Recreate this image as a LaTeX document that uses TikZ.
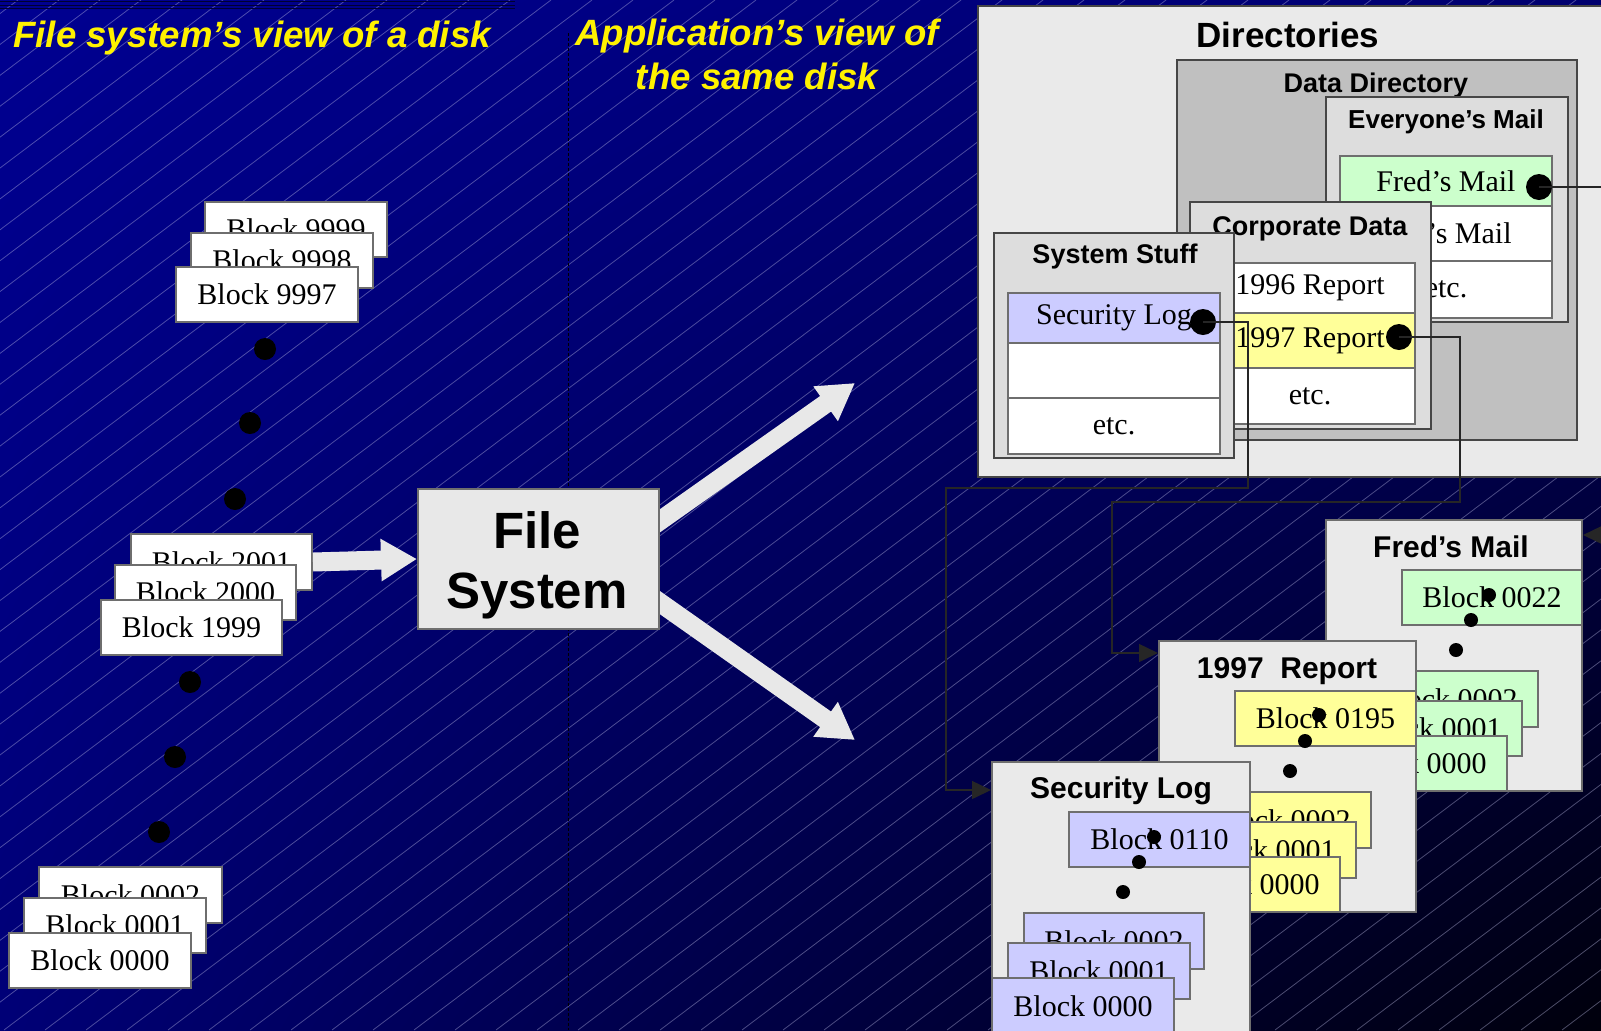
\documentclass[tikz,border=0pt]{standalone}
\usepackage{fontspec}
\setmainfont{Liberation Serif}
\newfontfamily\hsans{Liberation Sans}
\usetikzlibrary{arrows.meta,calc,shadings}
\pgfdeclarelayer{back}
\pgfsetlayers{back,main}

\definecolor{bgUL}{RGB}{0,0,145}
\definecolor{bgUR}{RGB}{0,0,110}
\definecolor{bgLL}{RGB}{0,0,118}
\definecolor{bgLR}{RGB}{0,0,12}
\definecolor{panelfill}{RGB}{234,234,234}
\definecolor{ddfill}{RGB}{192,192,192}
\definecolor{subfill}{RGB}{221,221,221}
\definecolor{greenC}{RGB}{204,255,204}
\definecolor{yellowC}{RGB}{255,255,153}
\definecolor{lavC}{RGB}{204,204,255}
\definecolor{blkline}{RGB}{110,110,110}
\definecolor{panelline}{RGB}{70,70,70}
\definecolor{arrowgray}{RGB}{232,232,232}
\definecolor{topstripe}{RGB}{0,0,50}
\definecolor{hatch}{RGB}{190,190,230}

\newcommand{\blkfont}{\fontsize{15}{18}\selectfont}

\tikzset{
  sz/.style 2 args={minimum width=#1*0.5pt, minimum height=#2*0.5pt},
  blk/.style={draw=blkline, line width=1pt, fill=white, inner sep=0pt,
    anchor=north west, font=\blkfont},
  row/.style={blk},
  panel/.style={draw=panelline, line width=1pt, inner sep=0pt, anchor=north west},
  fbox/.style={draw=blkline, line width=1pt, fill=panelfill, inner sep=0pt, anchor=north west},
  bigdot/.style={circle, fill=black, inner sep=0pt, minimum size=11pt},
  dirdot/.style={circle, fill=black, inner sep=0pt, minimum size=13pt},
  smalldot/.style={circle, fill=black, inner sep=0pt, minimum size=7pt},
  ttl/.style={text=yellow, inner sep=0pt,
    font=\hsans\bfseries\itshape\fontsize{18.3}{22}\selectfont},
  hd/.style={anchor=base, inner sep=0pt, font=\hsans\bfseries\fontsize{13.5}{16}\selectfont},
  fhd/.style={anchor=base, inner sep=0pt, font=\hsans\bfseries\fontsize{15}{18}\selectfont},
  fstext/.style={anchor=base, inner sep=0pt, font=\hsans\bfseries\fontsize{25.5}{30}\selectfont},
  bigarrow/.style={draw=arrowgray, line width=9.5pt,
    -{Triangle[length=18pt,width=20pt]}},
  conn/.style={draw=black!85, line width=0.75pt},
  connarrow/.style={conn, -{Triangle[length=9.5pt,width=9pt]}},
  divider/.style={draw=black, line width=0.5pt, dash pattern=on 1.5pt off 1pt},
  bgline/.style={draw=hatch, opacity=0.4, line width=0.4pt},
}

\begin{document}
\begin{tikzpicture}[x=0.5pt, y=-0.5pt]
\useasboundingbox (0,0) rectangle (1601,1030);
\clip (0,0) rectangle (1601,1030);

% background: dark blue shading with fine diagonal hatching
\begin{pgfonlayer}{back}
  \shade[upper left=bgUL, upper right=bgUR, lower left=bgLL, lower right=bgLR]
    (0,0) rectangle (1601,1030);
  \foreach \i in {-1390,-1349,...,1620}
    \draw[bgline] (\i,1030) -- (\i+1367,0);
  \foreach \yy in {1.5,5,8.5}
    \draw[draw=topstripe, line width=0.4pt] (0,\yy) -- (515,\yy);
\end{pgfonlayer}

% headings
\node[ttl, anchor=base west] (t1) at (13,47) {File system’s view of a disk};
\node[ttl, anchor=base] (t2a) at (757,45) {Application’s view of};
\node[ttl, anchor=base] (t2b) at (757,89) {the same disk};

% divider between the two views
\draw[divider] (568,33) -- (568,1030);

% raw blocks as the file system sees them
\node[blk, sz={182}{55}] (b9999) at (204,201) {Block 9999};
\node[blk, sz={182}{55}] (b9998) at (190,232) {Block 9998};
\node[blk, sz={182}{55}] (b9997) at (175,266) {Block 9997};
\node[bigdot] (d1) at (265,349) {};
\node[bigdot] (d2) at (250,423) {};
\node[bigdot] (d3) at (235,499) {};
\node[blk, sz={181}{56}] (b2001) at (130,533) {Block 2001};
\node[blk, sz={181}{55}] (b2000) at (114,564) {Block 2000};
\node[blk, sz={181}{55}] (b1999) at (100,599) {Block 1999};
\node[bigdot] (d4) at (190,682) {};
\node[bigdot] (d5) at (175,757) {};
\node[bigdot] (d6) at (159,832) {};
\node[blk, sz={183}{56}] (b0002) at (38,866) {Block 0002};
\node[blk, sz={182}{55}] (b0001) at (23,897) {Block 0001};
\node[blk, sz={182}{55}] (b0000) at (8,932) {Block 0000};

% the file system
\node[fbox, fill=arrowgray, sz={241}{140}] (fs) at (417,488) {};
\node[fstext] (fsA) at (537,548) {File};
\node[fstext] (fsB) at (537,608) {System};

\draw[bigarrow] (b2001.east) -- (fs.west);
\coordinate (upTip) at (855,383);
\coordinate (dnTip) at (855,740);
\begin{pgfonlayer}{back}
  \draw[bigarrow] ($(fs.east)+(-40,-10)$) -- (upTip);
  \draw[bigarrow] ($(fs.east)+(-40,15.5)$) -- (dnTip);
\end{pgfonlayer}

% directory tree
\node[panel, fill=panelfill, sz={643}{471}] (dirs) at (977,5) {};
\node[hd, font=\hsans\bfseries\fontsize{17.5}{20}\selectfont] (dirsT) at (1288,47) {Directories};
\node[panel, fill=ddfill, sz={400}{380}] (ddir) at (1176,59) {};
\node[hd] (ddirT) at (1376,92) {Data Directory};

\node[panel, fill=subfill, sz={242}{225}] (email) at (1325,96) {};
\node[hd, font=\hsans\bfseries\fontsize{13}{16}\selectfont] (emailT) at (1446,128) {Everyone’s Mail};
\node[row, fill=greenC, sz={212}{50}] (rFred) at (1339,155) {Fred’s Mail};
\node[row, sz={212}{55}] (rOther) at (1339,205) {};
\node[anchor=base east, inner sep=0pt, font=\blkfont] (rOtherT) at (1512,243) {’s Mail};
\node[row, sz={212}{57}] (rMetc) at (1339,260) {etc.};
\node[dirdot] (dotFred) at (1539,187) {};

\node[panel, fill=subfill, sz={241}{227}] (corp) at (1189,201) {};
\node[hd] (corpT) at (1310,235) {Corporate Data};
\node[row, sz={210}{50}] (r1996) at (1204,262) {1996 Report};
\node[row, fill=yellowC, sz={210}{55}] (r1997) at (1204,312) {1997 Report};
\node[row, sz={210}{56}] (rCetc) at (1204,367) {etc.};
\node[dirdot] (dot97) at (1399,337) {};

\node[panel, fill=subfill, sz={240}{225}] (sys) at (993,232) {};
\node[hd] (sysT) at (1115,263) {System Stuff};
\node[row, fill=lavC, sz={212}{50}] (rSec) at (1007,292) {Security Log};
\node[row, sz={212}{55}] (rEmpty) at (1007,342) {};
\node[row, sz={212}{56}] (rSetc) at (1007,397) {etc.};
\node[dirdot] (dotSec) at (1203,322) {};

% files and their chains of blocks
\node[fbox, sz={256}{271}] (fm) at (1325,519) {};
\node[fhd] (fmT) at (1451,557) {Fred’s Mail};
\node[blk, fill=greenC, sz={180}{55}] (fm22) at (1401,569) {Block 0022};
\node[smalldot] (fmd1) at (1489,595) {};
\node[smalldot] (fmd2) at (1471,620) {};
\node[smalldot] (fmd3) at (1456,650) {};
\node[blk, fill=greenC, sz={180}{56}] (fm02) at (1357,670) {Block 0002};
\node[blk, fill=greenC, sz={180}{55}] (fm01) at (1341,700) {Block 0001};
\node[blk, fill=greenC, sz={180}{55}] (fm00) at (1326,735) {Block 0000};

\node[fbox, sz={257}{271}] (rp) at (1158,640) {};
\node[fhd] (rpT) at (1287,678) {1997\ \ Report};
\node[blk, fill=yellowC, sz={181}{55}] (rp195) at (1234,690) {Block 0195};
\node[smalldot] (rpd1) at (1319,715) {};
\node[smalldot] (rpd2) at (1305,741) {};
\node[smalldot] (rpd3) at (1290,771) {};
\node[blk, fill=yellowC, sz={180}{56}] (rp02) at (1190,791) {Block 0002};
\node[blk, fill=yellowC, sz={180}{56}] (rp01) at (1175,821) {Block 0001};
\node[blk, fill=yellowC, sz={180}{55}] (rp00) at (1159,856) {Block 0000};

\node[fbox, sz={258}{290}] (sl) at (991,761) {};
\node[fhd] (slT) at (1121,798) {Security Log};
\node[blk, fill=lavC, sz={181}{55}] (sl110) at (1068,811) {Block 0110};
\node[smalldot] (sld1) at (1154,837) {};
\node[smalldot] (sld2) at (1139,862) {};
\node[smalldot] (sld3) at (1123,892) {};
\node[blk, fill=lavC, sz={180}{56}] (sl02) at (1023,912) {Block 0002};
\node[blk, fill=lavC, sz={182}{56}] (sl01) at (1007,942) {Block 0001};
\node[blk, fill=lavC, sz={182}{56}] (sl00) at (991,977) {Block 0000};

% pointers from directory entries to files
\coordinate (slIn) at ($(sl.north west)+(0,29)$);
\coordinate (rpIn) at ($(rp.north west)+(0,13)$);
\coordinate (fmIn) at ($(fm.north east)+(0,16)$);
\draw[connarrow] (dotSec.center) -| (1248,488) -| (946,790) -- (slIn);
\draw[connarrow] (dot97.center) -| (1460,502) -| (1112,653) -- (rpIn);
\draw[connarrow] (dotFred.center) -- (1640,187) |- (fmIn);
\end{tikzpicture}
\end{document}
